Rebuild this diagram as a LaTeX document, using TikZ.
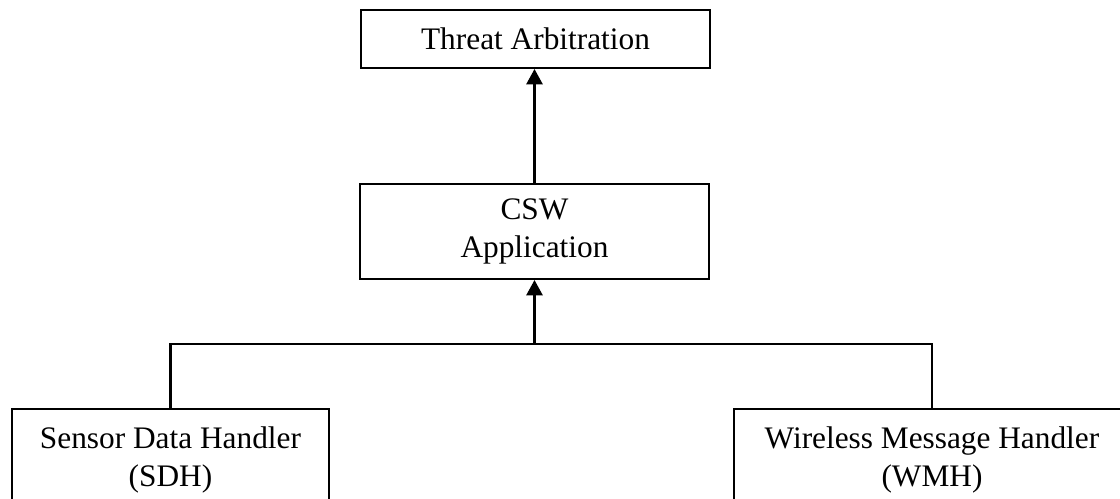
\documentclass[tikz,border=0pt]{standalone}
\usepackage{fontspec}
\setmainfont{Liberation Serif}
\usetikzlibrary{arrows.meta}
\begin{document}
\begin{tikzpicture}[x=0.75pt,y=-0.75pt,
  box/.style={draw=black, line width=1.5pt, align=center, inner sep=2pt,
    font={\fontsize{23.5pt}{28.5pt}\selectfont}},
  feed/.style={line width=2pt, -{Triangle[length=11.5pt,width=12pt]}},
  bus/.style={line width=1.6pt}]
\useasboundingbox (0,0) rectangle (1120,499);
\clip (0,0) rectangle (1120,499);
\node[box, minimum width={349*0.75pt}, minimum height={58*0.75pt}] (ta) at (535.5,39) {Threat Arbitration};
\node[box, minimum width={349*0.75pt}, minimum height={95*0.75pt}] (csw) at (534.5,231.5) {CSW\\Application};
\node[box, minimum width={317*0.75pt}, minimum height={102*0.75pt}] (sdh) at (170.5,460) {Sensor Data Handler\\(SDH)};
\node[box, minimum width={396*0.75pt}, minimum height={102*0.75pt}] (wmh) at (932,460) {Wireless Message Handler\\(WMH)};
\coordinate (bus) at (534.5,344);
\draw[feed] (csw.north) -- (csw.north |- ta.south);
\draw[feed] (bus) -- (csw.south);
\draw[bus] (sdh.north) -- (sdh.north |- bus) -- (wmh.north |- bus) -- (wmh.north);
\end{tikzpicture}
\end{document}
